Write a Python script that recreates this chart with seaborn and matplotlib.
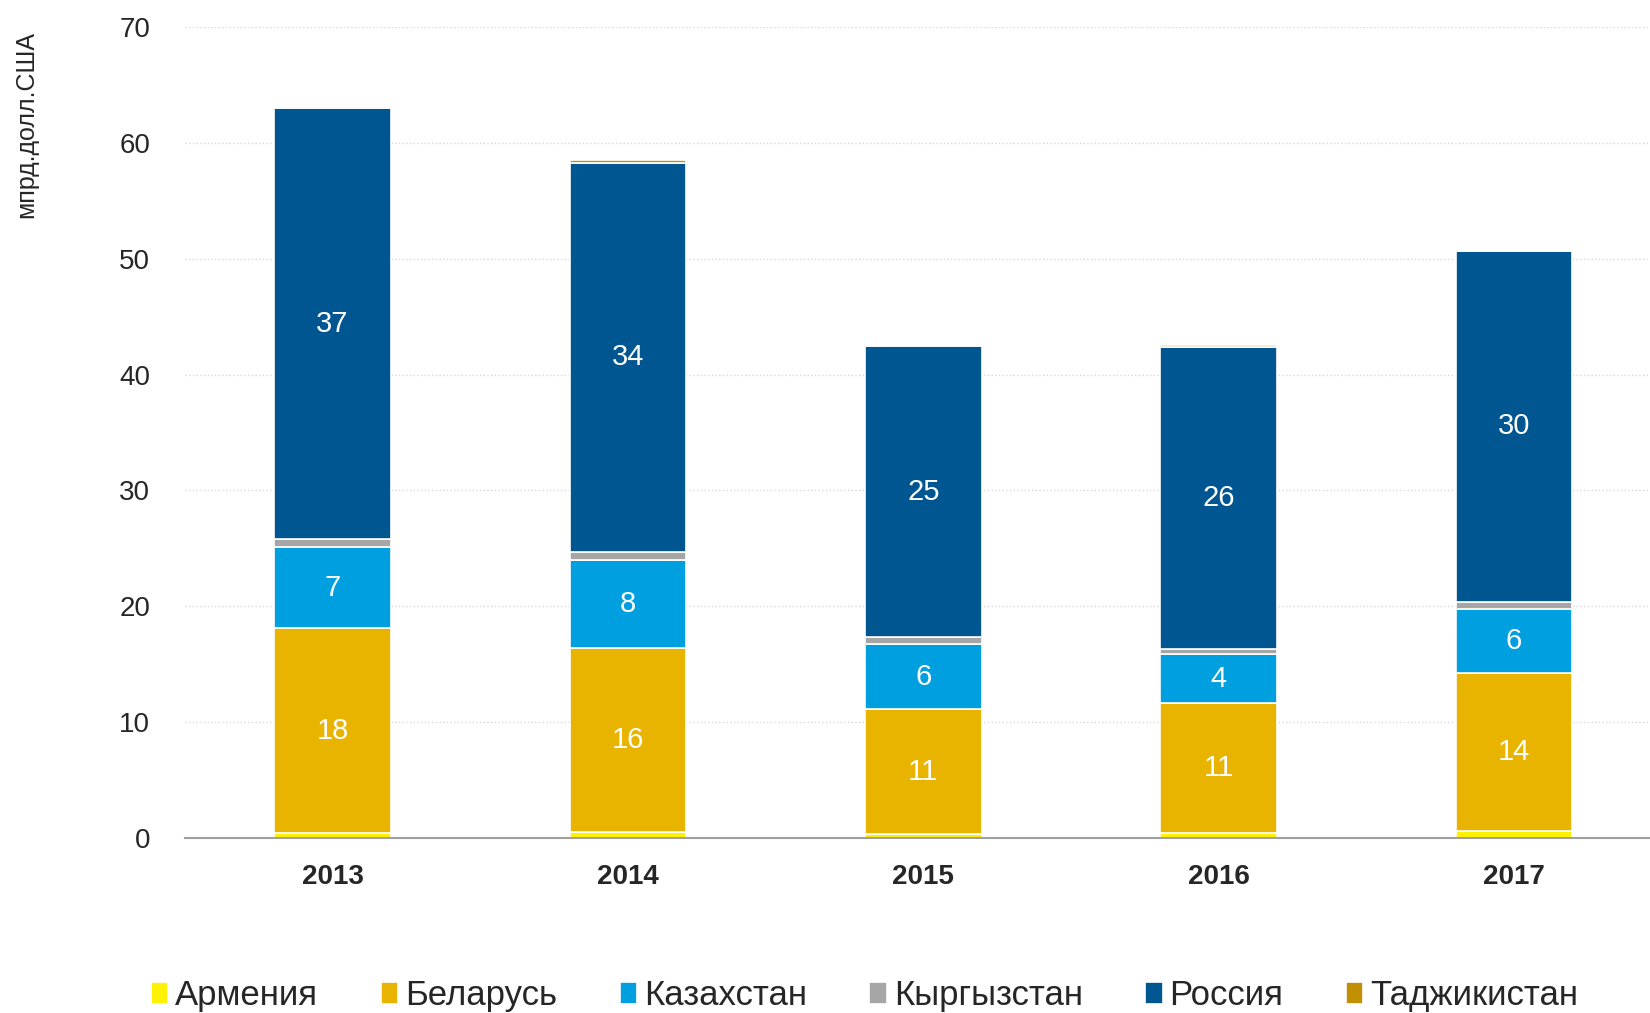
import numpy as np
import pandas as pd
import matplotlib
matplotlib.use('Agg')
import matplotlib.pyplot as plt
import seaborn as sns

years = ['2013', '2014', '2015', '2016', '2017']
countries = ['Армения', 'Беларусь', 'Казахстан', 'Кыргызстан', 'Россия', 'Таджикистан']

armenia = [0.4, 0.5, 0.3, 0.4, 0.6]
belarus = [17.7, 15.9, 10.8, 11.2, 13.6]
kazakhstan = [7.0, 7.6, 5.6, 4.3, 5.6]
kyrgyzstan = [0.7, 0.7, 0.6, 0.4, 0.6]
russia = [37.2, 33.6, 25.2, 26.1, 30.3]
tajikistan = [0.1, 0.2, 0.1, 0.2, 0.1]

colors = ['#FFF200', '#E8B400', '#00A0E0', '#A6A6A6', '#005690', '#C09000']
labelled = ['Беларусь', 'Казахстан', 'Россия']

df = pd.DataFrame({'year': years, 'Армения': armenia, 'Беларусь': belarus,
                   'Казахстан': kazakhstan, 'Кыргызстан': kyrgyzstan,
                   'Россия': russia, 'Таджикистан': tajikistan})

sns.set_style('white')
plt.rcParams['font.family'] = ['Liberation Sans', 'DejaVu Sans']

fig = plt.figure(figsize=(16.5, 10.13), dpi=100)
ax = fig.add_axes([0.112, 0.173, 0.888, 0.8])

# stacked bars, one layer per country
bottom = np.zeros(len(years))
for country, color in zip(countries, colors):
    sns.barplot(data=df, x='year', y=country, bottom=bottom, color=color, saturation=1,
                width=0.395, edgecolor='white', linewidth=1.2, label=country, ax=ax)
    if country in labelled:
        vals = df[country].values
        for i, v in enumerate(vals):
            ax.text(i, bottom[i] + v / 2, f'{v:.0f}', ha='center', va='center',
                    color='white', fontsize=21)
    bottom = bottom + df[country].values

handles, labels = ax.get_legend_handles_labels()
if ax.get_legend() is not None:
    ax.get_legend().remove()

ax.set_xlim(-0.5, 4.46)
ax.set_ylim(0, 70)
ax.set_yticks(range(0, 71, 10))
ax.yaxis.grid(True, color='#D9D9D9', linestyle=':', linewidth=1)
ax.set_axisbelow(True)
for s in ['left', 'right', 'top']:
    ax.spines[s].set_visible(False)
ax.spines['bottom'].set_color('#A0A0A0')
ax.spines['bottom'].set_linewidth(1.5)
ax.tick_params(axis='y', labelsize=20, length=0, pad=25, labelcolor='#262626')
ax.tick_params(axis='x', labelsize=20, length=0, pad=19)
for t in ax.get_xticklabels():
    t.set_fontweight('bold')
ax.set_xlabel('')
ax.set_ylabel('мпрд.долл.США', fontsize=18)
ax.yaxis.set_label_coords(-0.1, 0.88)

fig.legend(handles, labels, loc='lower center', bbox_to_anchor=(0.524, -0.03), ncol=6,
           frameon=False, fontsize=25, handlelength=0.5, handleheight=0.6,
           handletextpad=0.2, columnspacing=1.8)

fig.savefig('out.png', dpi=100)
